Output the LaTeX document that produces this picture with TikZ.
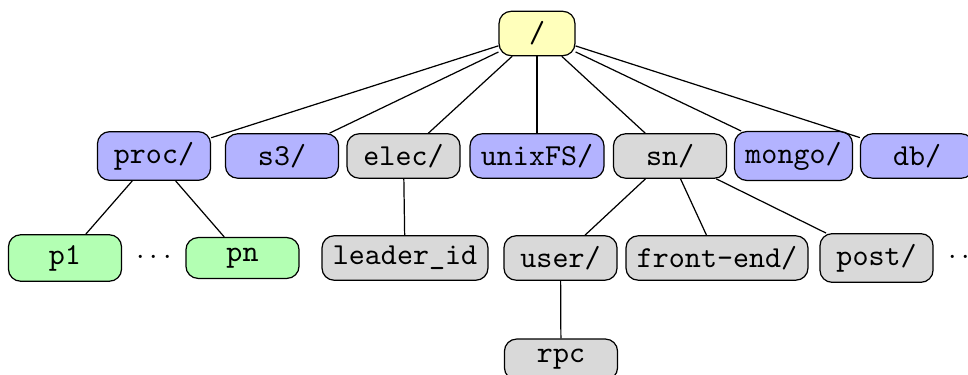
\documentclass[tikz,border=0pt]{standalone}
\usetikzlibrary{calc}
\definecolor{rootfill}{RGB}{255,255,187}
\definecolor{bluefill}{RGB}{179,179,255}
\definecolor{greenfill}{RGB}{179,255,179}
\definecolor{grayfill}{RGB}{217,217,217}
\tikzset{
  box/.style={draw=black, rounded corners=4pt, font=\ttfamily, inner xsep=3.6pt, inner ysep=3.4pt, minimum width=37.1pt},
  rootbox/.style={box, fill=rootfill, minimum width=24.9pt},
  bluebox/.style={box, fill=bluefill},
  greenbox/.style={box, fill=greenfill},
  graybox/.style={box, fill=grayfill},
  edge/.style={draw=black, line width=0.4pt},
  dotsnode/.style={inner sep=0pt}
}
\begin{document}
\begin{tikzpicture}[x=0.328pt, y=-0.328pt]
\useasboundingbox (0,0) rectangle (968,375);
% root
\node[rootbox] (root) at (537,33.5) {/};
% level 1
\node[bluebox] (proc) at (154,156) {proc/};
\node[bluebox] (s3) at (282,156) {s3/};
\node[graybox] (elec) at (403.5,156) {elec/};
\node[bluebox] (unix) at (537,156) {unixFS/};
\node[graybox] (sn) at (670,156) {sn/};
\node[bluebox] (mongo) at (793.5,156) {mongo/};
\node[bluebox] (db) at (917,156) {db/};
% level 2
\node[greenbox] (p1) at (65,258) {p1};
\node[dotsnode] (dotsA) at (154,258) {$\cdots$};
\node[greenbox] (pn) at (242.5,258) {pn};
\node[graybox] (leader) at (405,258) {leader\_id};
\node[graybox] (user) at (560.5,258) {user/};
\node[graybox] (front) at (717,258) {front-end/};
\node[graybox] (post) at (876.5,258) {post/};
\node[dotsnode] (dotsB) at (966,258) {$\cdots$};
% level 3
\node[graybox] (rpc) at (561,359.5) {rpc};
% edges
\foreach \c in {proc,s3,elec,unix,sn,mongo,db} \draw[edge] (root) -- (\c);
\draw[edge] (proc) -- (p1);
\draw[edge] (proc) -- (pn);
\draw[edge] (elec) -- (leader);
\draw[edge] (sn) -- (user);
\draw[edge] (sn) -- (front);
\draw[edge] (sn) -- (post);
\draw[edge] (user) -- (rpc);
\end{tikzpicture}
\end{document}
